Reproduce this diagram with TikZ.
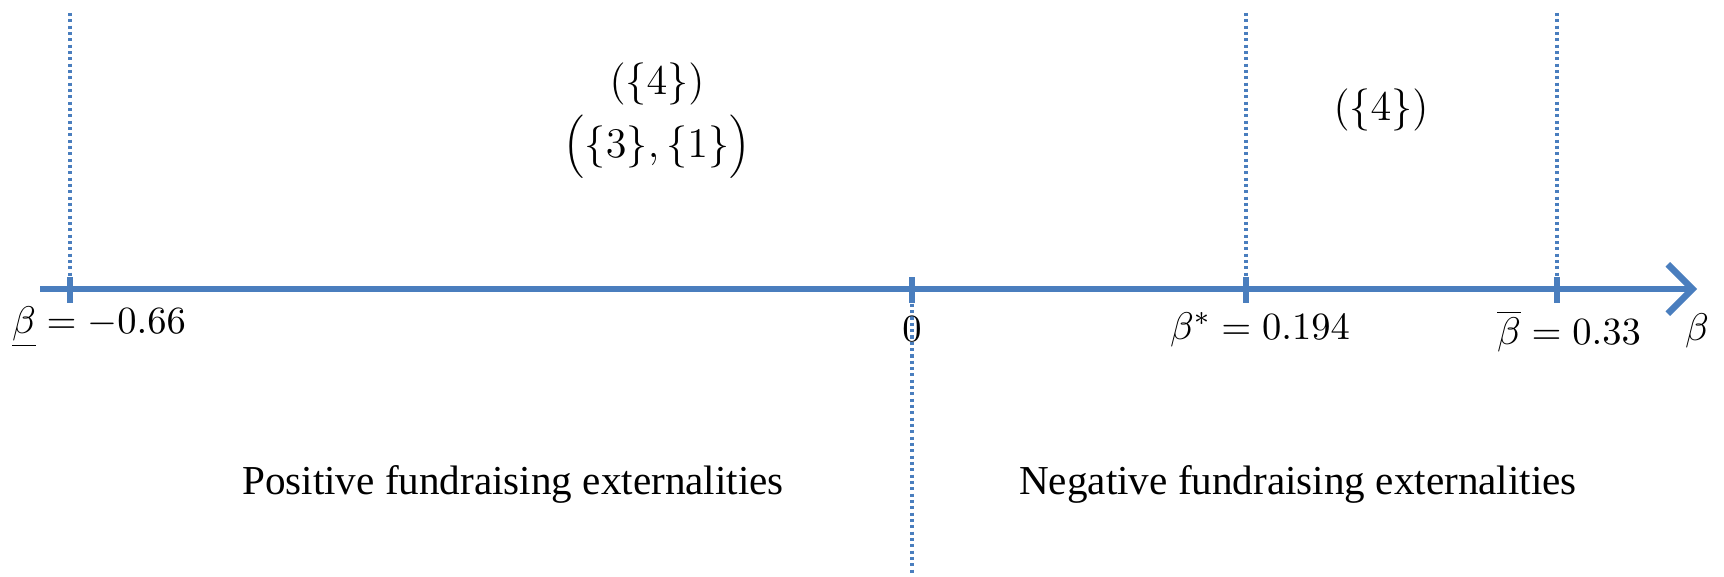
\documentclass[tikz,border=0pt]{standalone}
\usepackage{fontspec}
\setmainfont{Liberation Serif}
\usetikzlibrary{arrows.meta}
\definecolor{axisblue}{RGB}{74,126,190}
\tikzset{
  tickmark/.style={draw=none, fill=axisblue, inner sep=0pt, minimum width=0.06cm, minimum height=0.26cm},
  guide/.style={axisblue, line width=0.9pt, dash pattern=on 0.9pt off 0.9pt},
  ticklabel/.style={font=\fontsize{11.2}{14}\selectfont},
  eqlabel/.style={font=\fontsize{12}{15}\selectfont},
  regionlabel/.style={font=\fontsize{11.7}{14}\selectfont}
}
\begin{document}
\begin{tikzpicture}[x=0.01cm, y=-0.01cm]
    \useasboundingbox (0,0) rectangle (1724,577);

    % axis
    \coordinate (axstart) at (40,289);
    \coordinate (axend) at (1697,289);
    \draw[axisblue, line width=1.85pt, -{Straight Barb[length=7pt, width=14pt, line width=1.85pt]}] (axstart) -- (axend);

    % ticks
    \node[tickmark] (tlow) at (70,290) {};
    \node[tickmark] (tzero) at (912,290) {};
    \node[tickmark] (tstar) at (1246,290) {};
    \node[tickmark] (tbar) at (1557,290) {};

    % dotted guides
    \coordinate (glow) at (70,13);
    \coordinate (gzero) at (912,574);
    \coordinate (gstar) at (1246,13);
    \coordinate (gbar) at (1557,13);
    \draw[guide] (glow) -- (tlow.north);
    \draw[guide] (tzero.south) -- (gzero);
    \draw[guide] (gstar) -- (tstar.north);
    \draw[guide] (gbar) -- (tbar.north);

    % tick labels
    \node[ticklabel] (llow) at (99,327) {$\underline{\beta}=-0.66$};
    \node[ticklabel] (lzero) at (912,329) {$0$};
    \node[ticklabel] (lstar) at (1260,330) {$\beta^{*}=0.194$};
    \node[ticklabel] (lbar) at (1569,331) {$\overline{\beta}=0.33$};
    \node[ticklabel] (lbeta) at (1697,331) {$\beta$};

    % equilibria
    \node[eqlabel] (eqa) at (657,84) {$(\{4\})$};
    \node[eqlabel] (eqb) at (657,147) {$\Bigl(\{3\},\{1\}\Bigr)$};
    \node[eqlabel] (eqc) at (1381,110) {$(\{4\})$};

    % regions
    \node[regionlabel] (rpos) at (513,484) {Positive fundraising externalities};
    \node[regionlabel] (rneg) at (1298,484) {Negative fundraising externalities};
\end{tikzpicture}
\end{document}
